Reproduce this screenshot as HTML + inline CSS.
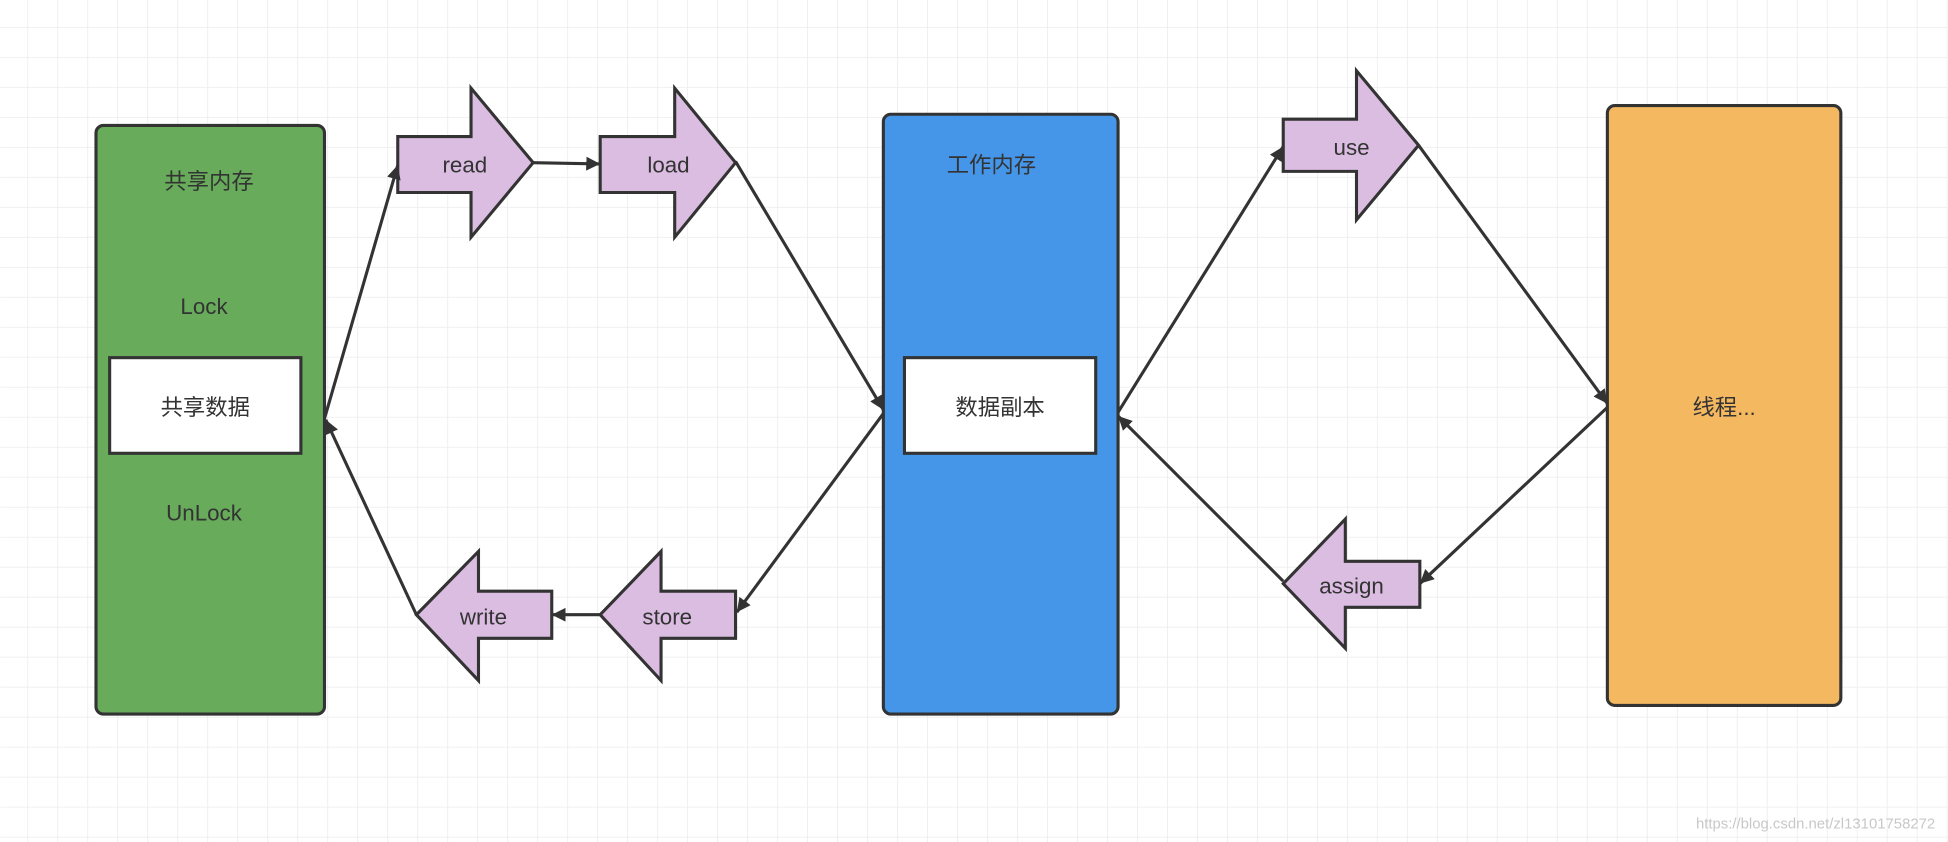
<!DOCTYPE html>
<html><head><meta charset="utf-8"><style>html,body{margin:0;padding:0;background:#fff}svg{display:block}</style></head>
<body>
<svg width="1948" height="842" viewBox="0 0 1568 678" xmlns="http://www.w3.org/2000/svg" font-family="Liberation Sans, Noto Sans CJK SC, sans-serif">
<defs>
<pattern id="g" x="21.7" y="21.7" width="24.15" height="24.15" patternUnits="userSpaceOnUse">
<path d="M0 0H24.15M0 0V24.15" stroke="#ececec" stroke-width="1.3" fill="none"/>
</pattern>
<marker id="a" viewBox="0 0 10 10" refX="10" refY="5" markerWidth="4.5" markerHeight="4.5" orient="auto" markerUnits="strokeWidth"><path d="M0 0L10 5L0 10z" fill="#333"/></marker>
</defs>
<rect width="1568" height="678" fill="#fff"/>
<rect width="1568" height="678" fill="url(#g)"/>
<g stroke="#333" stroke-width="2.5">
<rect x="77" y="101" width="184" height="474" rx="6" fill="#67AB5B"/>
<rect x="88" y="288" width="154" height="77" fill="#fff"/>
<rect x="711" y="92" width="189" height="483" rx="6" fill="#4596E8"/>
<rect x="728" y="288" width="154" height="77" fill="#fff"/>
<rect x="1294" y="85" width="188" height="483" rx="6" fill="#F4B860"/>
<g fill="#DBBDE2" stroke-linejoin="miter">
<path d="M320 110H379V71L429 131L379 191V155H320Z"/>
<path d="M483 110H543V71L592 131L543 191V155H483Z"/>
<path d="M1033 96H1092V57L1142 117L1092 177V138H1033Z"/>
<path d="M335 495L385 444V476H444V514H385V548Z"/>
<path d="M483 495L532 444V476H592V514H532V548Z"/>
<path d="M1033 470L1083 418V452H1143V489H1083V522Z"/>
</g>
<g fill="none" marker-end="url(#a)">
<path d="M261 337L320 133"/>
<path d="M429 131L483 132"/>
<path d="M592 130L711 330"/>
<path d="M711 333L593 493"/>
<path d="M483 495L444 495"/>
<path d="M335 495L262 338"/>
<path d="M900 332L1033 118"/>
<path d="M1142 117L1294 325"/>
<path d="M1294 328L1143 470"/>
<path d="M1033 468L900 335"/>
</g>
</g>
<g fill="#333" font-size="18" text-anchor="middle">
<text x="168" y="152">共享内存</text>
<text x="164" y="253">Lock</text>
<text x="165" y="334">共享数据</text>
<text x="164" y="419">UnLock</text>
<text x="798" y="139">工作内存</text>
<text x="805" y="334">数据副本</text>
<text x="1388" y="334">线程...</text>
<text x="374" y="139">read</text>
<text x="538" y="139">load</text>
<text x="1088" y="125">use</text>
<text x="389" y="503">write</text>
<text x="537" y="503">store</text>
<text x="1088" y="478">assign</text>
</g>
<text x="1558" y="667" font-size="12" fill="#c8c8c8" text-anchor="end">https://blog.csdn.net/zl13101758272</text>
</svg>
</body></html>
